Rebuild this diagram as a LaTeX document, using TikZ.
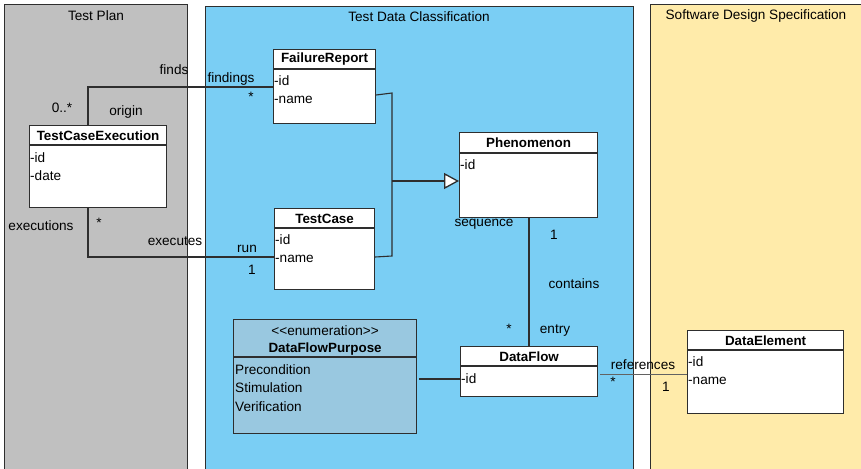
\documentclass[tikz,border=0pt]{standalone}
\usepackage{fontspec}
\setmainfont{Liberation Sans}
\usetikzlibrary{arrows.meta,calc}

\definecolor{planfill}{HTML}{C0C0C0}
\definecolor{classfill}{HTML}{7ACEF4}
\definecolor{specfill}{HTML}{FFEBAA}
\definecolor{enumfill}{HTML}{99C8E0}
\definecolor{edge}{HTML}{2E2E2E}

% class box: name, x, y, width, height, header height, fill
\newcommand\umlbox[7]{%
  \node[classbox, fill=#7, minimum width=#4pt, minimum height=#5pt] (#1) at (#2,#3) {};
  \draw[classline] ($(#1.north west)+(0,#6)$) -- ($(#1.north east)+(0,#6)$);
}

\begin{document}
\begin{tikzpicture}[x=1pt,y=-1pt,
  font=\fontsize{13.6}{16}\selectfont,
  panel/.style={draw=edge, line width=0.9pt, rectangle, inner sep=0pt, anchor=north west},
  ptitle/.style={inner sep=0pt, anchor=center},
  classbox/.style={draw=edge, line width=1.2pt, rectangle, inner sep=0pt, anchor=north west},
  classline/.style={draw=edge, line width=1.2pt},
  ctitle/.style={inner sep=0pt, anchor=center, font=\fontsize{13.4}{16}\selectfont\bfseries},
  attr/.style={inner sep=0pt, anchor=west},
  lbl/.style={inner sep=0pt, anchor=center},
  assoc/.style={draw=edge, line width=1.1pt},
  refline/.style={draw=edge!75, line width=0.8pt},
  gen/.style={draw=edge, line width=2pt, -{Triangle[length=15pt, width=16pt, fill=white, line width=1.3pt]}}
]
\path[use as bounding box] (0,0) rectangle (861,468);
\fill[white] (0,0) rectangle (861,468);

% package areas
\node[panel, fill=planfill, minimum width=183pt, minimum height=480pt] (plan) at (4,4) {};
\node[panel, fill=classfill, minimum width=428pt, minimum height=480pt] (classif) at (205,6) {};
\node[panel, fill=specfill, minimum width=230pt, minimum height=480pt] (spec) at (650,4) {};
\node[ptitle] (plan-t) at (96,15.5) {Test Plan};
\node[ptitle] (classif-t) at (419,16.5) {Test Data Classification};
\node[ptitle] (spec-t) at (756,15.5) {Software Design Specification};

% classes
\umlbox{tce}{29}{125}{137}{82}{20}{white}
\node[ctitle] (tce-t) at ($(tce.north)+(0,10.5)$) {TestCaseExecution};
\node[attr] (tce-a1) at ($(tce.north west)+(1,33)$) {-id};
\node[attr] (tce-a2) at ($(tce.north west)+(1,51)$) {-date};

\umlbox{fr}{273}{49}{102}{74}{20}{white}
\node[ctitle] (fr-t) at ($(fr.north)+(0,10.5)$) {FailureReport};
\node[attr] (fr-a1) at ($(fr.north west)+(1,32)$) {-id};
\node[attr] (fr-a2) at ($(fr.north west)+(1,51)$) {-name};

\umlbox{phen}{459}{132}{138}{85}{21}{white}
\node[ctitle] (phen-t) at ($(phen.north)+(0,11)$) {Phenomenon};
\node[attr] (phen-a1) at ($(phen.north west)+(1,33)$) {-id};

\umlbox{tc}{274}{208}{100}{81}{20}{white}
\node[ctitle] (tc-t) at ($(tc.north)+(0,10.5)$) {TestCase};
\node[attr] (tc-a1) at ($(tc.north west)+(1,32)$) {-id};
\node[attr] (tc-a2) at ($(tc.north west)+(1,51)$) {-name};

\umlbox{dfp}{233}{319}{183}{114}{38}{enumfill}
\node[lbl] (dfp-s) at ($(dfp.north)+(0,11.5)$) {<{}<enumeration>{}>};
\node[ctitle] (dfp-t) at ($(dfp.north)+(0,30.5)$) {DataFlowPurpose};
\node[attr] (dfp-a1) at ($(dfp.north west)+(2,51)$) {Precondition};
\node[attr] (dfp-a2) at ($(dfp.north west)+(2,69)$) {Stimulation};
\node[attr] (dfp-a3) at ($(dfp.north west)+(2,88)$) {Verification};

\umlbox{df}{460}{346}{137}{50}{20}{white}
\node[ctitle] (df-t) at ($(df.north)+(0,10.5)$) {DataFlow};
\node[attr] (df-a1) at ($(df.north west)+(1,33)$) {-id};

\umlbox{de}{687}{330}{156}{83}{20}{white}
\node[ctitle] (de-t) at ($(de.north)+(0,10.5)$) {DataElement};
\node[attr] (de-a1) at ($(de.north west)+(1,32)$) {-id};
\node[attr] (de-a2) at ($(de.north west)+(1,51)$) {-name};

% associations
\draw[assoc] ($(tce.north west)+(59,0)$) |- ($(fr.north west)+(0,38)$);
\draw[assoc] ($(tce.south west)+(59,0)$) |- ($(tc.north west)+(0,49)$);
\draw[assoc] ($(phen.south west)+(70,0)$) coordinate (pd) -- (pd |- df.north);
\draw[assoc] ($(dfp.north east)+(2,60)$) -- ($(df.north west)+(0,33)$);
\draw[refline] ($(df.north east)+(2,28)$) -- ($(de.north west)+(0,44)$);

% generalization
\coordinate (gj) at (392,181);
\draw[assoc] ($(fr.north east)+(0,46)$) -- (gj |- 0,93) -- (gj |- 0,256) -- ($(tc.north east)+(0,49)$);
\draw[gen] (gj) -- (gj -| phen.west);

% role names and multiplicities
\node[lbl] (l-finds) at (174,69.5) {finds};
\node[lbl] (l-findings) at (231,78.5) {findings};
\node[lbl] (l-fstar) at (251,97) {*};
\node[lbl] (l-zero) at (62,107.5) {0..*};
\node[lbl] (l-origin) at (126,111.5) {origin};
\node[lbl] (l-execs) at (41,225.5) {executions};
\node[lbl] (l-estar) at (99,223) {*};
\node[lbl] (l-executes) at (175,241.5) {executes};
\node[lbl] (l-run) at (247,248.5) {run};
\node[lbl] (l-one) at (252,270) {1};
\node[lbl] (l-seq) at (484,224.5) {sequence};
\node[lbl] (l-seq1) at (554,235) {1};
\node[lbl] (l-contains) at (574,283.5) {contains};
\node[lbl] (l-entstar) at (509,329) {*};
\node[lbl] (l-entry) at (555,330.5) {entry};
\node[lbl] (l-refs) at (643,364.5) {references};
\node[lbl] (l-rstar) at (613,382) {*};
\node[lbl] (l-rone) at (666,387) {1};
\end{tikzpicture}
\end{document}
